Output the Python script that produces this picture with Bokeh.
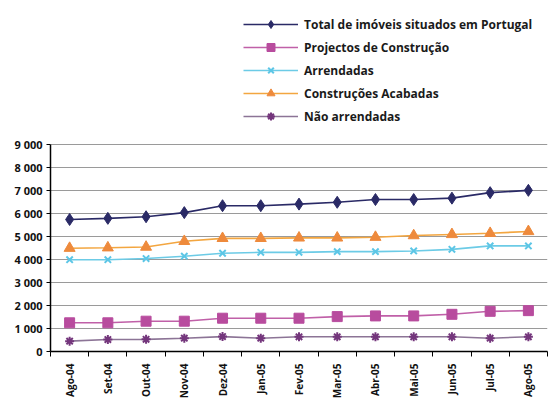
from math import pi
from bokeh.plotting import figure
from bokeh.models import Legend, LegendItem, FixedTicker, ColumnDataSource, Range1d
from bokeh.embed import file_html
from bokeh.resources import INLINE

months = ["Ago-04", "Set-04", "Out-04", "Nov-04", "Dez-04", "Jan-05", "Fev-05",
          "Mar-05", "Abr-05", "Mai-05", "Jun-05", "Jul-05", "Ago-05"]
total = [5750, 5800, 5870, 6050, 6350, 6350, 6420, 6500, 6620, 6620, 6680, 6920, 7020]
projectos = [1250, 1250, 1320, 1320, 1450, 1450, 1450, 1520, 1550, 1550, 1620, 1750, 1780]
arrendadas = [4000, 4000, 4050, 4150, 4280, 4320, 4320, 4350, 4350, 4380, 4450, 4600, 4600]
acabadas = [4500, 4520, 4550, 4800, 4930, 4930, 4950, 4950, 4980, 5050, 5100, 5150, 5230]
nao_arrendadas = [450, 520, 530, 580, 650, 580, 640, 640, 640, 640, 640, 580, 640]
y_ticks = [0, 1000, 2000, 3000, 4000, 5000, 6000, 7000, 8000, 9000]
y_tick_labels = ["0", "1 000", "2 000", "3 000", "4 000", "5 000", "6 000", "7 000", "8 000", "9 000"]
series_names = ["Total de imóveis situados em Portugal", "Projectos de Construção",
                "Arrendadas", "Construções Acabadas", "Não arrendadas"]

xs = list(range(len(months)))
y_max = 9000
# frame spans the legend area too; 9000 sits 206 px above 0, frame is 342 px tall
y_view_top = y_max * 342 / 206

p = figure(width=549, height=403, output_backend="svg", toolbar_location=None,
           x_range=Range1d(-0.5, len(months) - 0.5), y_range=Range1d(0, y_view_top),
           min_border_left=50, min_border_right=2, min_border_bottom=52, min_border_top=8)
p.outline_line_color = None
p.background_fill_color = "white"
p.border_fill_color = "white"

src = ColumnDataSource(dict(x=xs, total=total, projectos=projectos, arrendadas=arrendadas,
                            acabadas=acabadas, nao=nao_arrendadas))

items = []
l1 = p.line("x", "total", source=src, line_color="#2A2A66", line_width=1.6)
m1 = p.scatter("x", "total", source=src, marker="diamond", size=12, fill_color="#2A2A66", line_color="#2A2A66")
items.append(LegendItem(label=series_names[0], renderers=[l1, m1]))

l2 = p.line("x", "projectos", source=src, line_color="#C060A8", line_width=1.6)
m2 = p.scatter("x", "projectos", source=src, marker="square", size=10, fill_color="#B84C9E", line_color="#B84C9E")
items.append(LegendItem(label=series_names[1], renderers=[l2, m2]))

l3 = p.line("x", "arrendadas", source=src, line_color="#6CCBE6", line_width=1.6)
m3 = p.scatter("x", "arrendadas", source=src, marker="x", size=9, line_color="#5CC6E6", line_width=2)
items.append(LegendItem(label=series_names[2], renderers=[l3, m3]))

l4 = p.line("x", "acabadas", source=src, line_color="#F3A640", line_width=1.6)
m4 = p.scatter("x", "acabadas", source=src, marker="triangle", size=11, fill_color="#EE8A3C", line_color="#EE8A3C")
items.append(LegendItem(label=series_names[3], renderers=[l4, m4]))

l5 = p.line("x", "nao", source=src, line_color="#8C7496", line_width=1.6)
m5 = p.scatter("x", "nao", source=src, marker="asterisk", size=9, line_color="#74367C", line_width=2)
items.append(LegendItem(label=series_names[4], renderers=[l5, m5]))

legend = Legend(items=items, location=(193, 225), orientation="vertical",
                glyph_width=55, glyph_height=20, spacing=3, padding=2, margin=0,
                label_text_font="Open Sans", label_text_font_size="12px",
                label_text_font_style="bold",
                label_text_color="#1A1A1A", label_standoff=6,
                border_line_color=None, background_fill_alpha=0)
p.add_layout(legend)

# axes
p.xaxis.ticker = FixedTicker(ticks=xs, minor_ticks=[i - 0.5 for i in range(len(months) + 1)])
p.xaxis.major_label_overrides = {i: m for i, m in enumerate(months)}
p.xaxis.major_label_orientation = pi / 2
p.xaxis.major_tick_line_color = None
p.xaxis.minor_tick_out = 5
p.xaxis.minor_tick_in = 0
p.xaxis.minor_tick_line_color = "black"
p.xaxis.axis_line_color = "black"
p.xaxis.axis_line_width = 1.5
p.xaxis.major_label_text_font = "Open Sans"
p.xaxis.major_label_text_font_size = "10px"
p.xaxis.major_label_text_font_style = "bold"
p.xaxis.major_label_text_color = "#111111"
p.xaxis.major_label_standoff = 6

p.yaxis.ticker = FixedTicker(ticks=y_ticks)
p.yaxis.bounds = (0, y_max)
p.yaxis.major_label_overrides = {t: l for t, l in zip(y_ticks, y_tick_labels)}
p.yaxis.minor_tick_line_color = None
p.yaxis.major_tick_out = 4
p.yaxis.major_tick_in = 0
p.yaxis.axis_line_color = "black"
p.yaxis.axis_line_width = 1.5
p.yaxis.major_label_text_font = "Open Sans"
p.yaxis.major_label_text_font_size = "11px"
p.yaxis.major_label_text_font_style = "bold"
p.yaxis.major_label_text_color = "#111111"
p.yaxis.major_label_standoff = 4

p.xgrid.grid_line_color = None
p.ygrid.grid_line_color = "#9A9A9A"
p.ygrid.grid_line_width = 1

open("out.html", "w").write(file_html(p, INLINE))
